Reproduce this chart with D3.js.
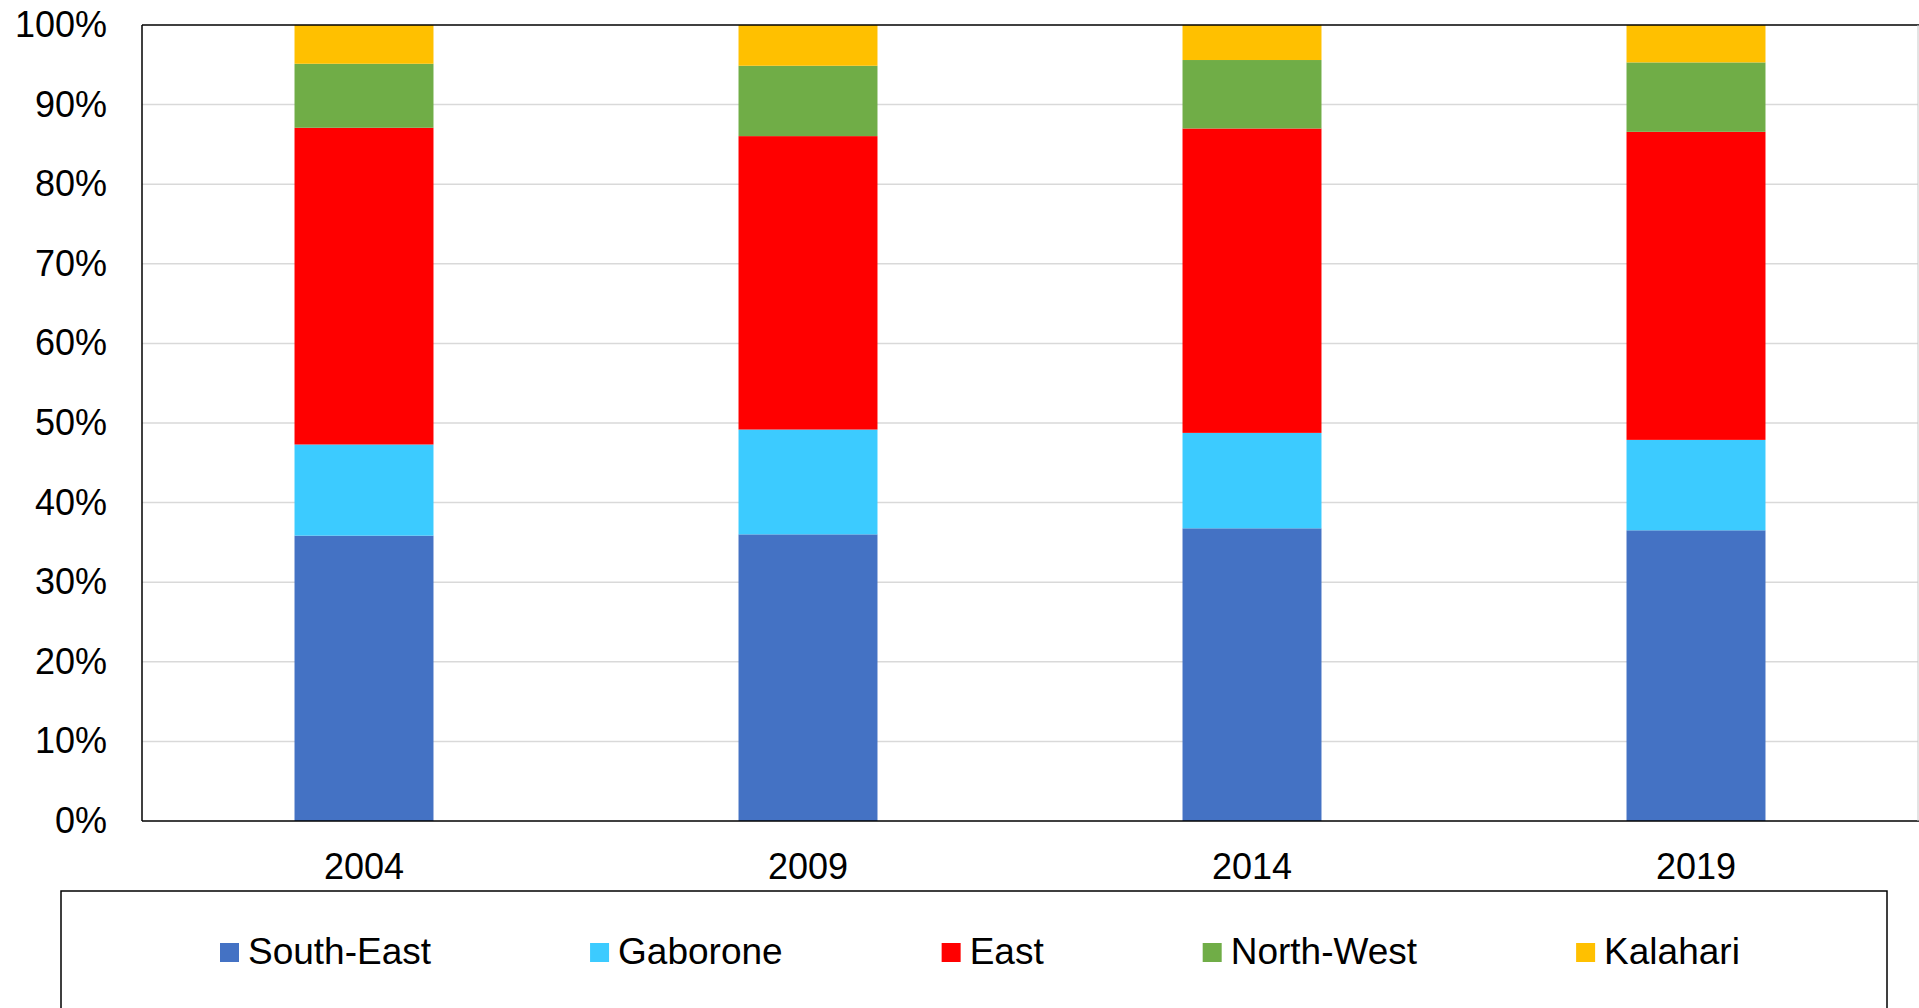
<!DOCTYPE html>
<html>
<head>
<meta charset="utf-8">
<script src="https://cdn.jsdelivr.net/npm/d3@7"></script>
<style>
  html, body { margin: 0; padding: 0; background: #fff; }
  svg { display: block; font-family: "Liberation Sans", Arial, sans-serif; }
</style>
</head>
<body>
<svg id="chart" width="1919" height="1008"></svg>
<script>
const years = ["2004", "2009", "2014", "2019"];
const seriesNames = ["South-East", "Gaborone", "East", "North-West", "Kalahari"];
const seriesColors = ["#4472C4", "#3CCBFF", "#FF0000", "#70AD47", "#FFC000"];
const southEast = [35.85, 36.01, 36.77, 36.52];
const gaborone  = [11.45, 13.17, 11.99, 11.36];
const east      = [39.79, 36.86, 38.24, 38.70];
const northWest = [8.04, 8.84, 8.60, 8.72];
const kalahari  = [4.87, 5.12, 4.40, 4.70];
const yTicks = [0, 0.1, 0.2, 0.3, 0.4, 0.5, 0.6, 0.7, 0.8, 0.9, 1.0];

const seriesValues = [southEast, gaborone, east, northWest, kalahari];
const rows = years.map((y, i) => {
  const r = { year: y };
  const total = seriesValues.reduce((s, arr) => s + arr[i], 0);
  seriesNames.forEach((n, k) => r[n] = seriesValues[k][i] / total);
  return r;
});

const svg = d3.select("#chart");
const L = 142, R = 1918, T = 25, B = 821;

const x = d3.scaleBand().domain(years).range([L, R]).paddingInner(0.687).paddingOuter(0.3435);
const y = d3.scaleLinear().domain([0, 1]).range([B, T]);

// gridlines
svg.append("g").selectAll("line").data(yTicks.filter(t => t > 0 && t < 1)).join("line")
  .attr("x1", L).attr("x2", R)
  .attr("y1", d => y(d)).attr("y2", d => y(d))
  .attr("stroke", "#d9d9d9").attr("stroke-width", 1.5);

// bars
const stack = d3.stack().keys(seriesNames)(rows);
const color = d3.scaleOrdinal().domain(seriesNames).range(seriesColors);
svg.append("g").selectAll("g").data(stack).join("g")
  .attr("fill", d => color(d.key))
  .selectAll("rect").data(d => d).join("rect")
  .attr("x", d => x(d.data.year))
  .attr("width", x.bandwidth())
  .attr("y", d => y(d[1]))
  .attr("height", d => y(d[0]) - y(d[1]));

// plot border
svg.append("line").attr("x1", L).attr("x2", R + 1).attr("y1", T).attr("y2", T).attr("stroke", "#000").attr("stroke-width", 1.5);
svg.append("line").attr("x1", L).attr("x2", R + 1).attr("y1", B).attr("y2", B).attr("stroke", "#000").attr("stroke-width", 1.5);
svg.append("line").attr("x1", L).attr("x2", L).attr("y1", T).attr("y2", B).attr("stroke", "#000").attr("stroke-width", 1.5);
svg.append("line").attr("x1", R).attr("x2", R).attr("y1", T).attr("y2", B).attr("stroke", "#c8c8c8").attr("stroke-width", 1);

// y axis
const yAxis = d3.axisLeft(y).tickValues(yTicks).tickSize(0).tickPadding(0).tickFormat(d3.format(".0%"));
const gy = svg.append("g").attr("transform", `translate(${107},0)`).call(yAxis);
gy.select(".domain").remove();
gy.selectAll("text").attr("font-size", 36).attr("fill", "#000").attr("font-family", "\"Liberation Sans\", Arial, sans-serif");

// x axis
const xAxis = d3.axisBottom(x).tickSize(0).tickPadding(0);
const gx = svg.append("g").attr("transform", `translate(0,${B})`).call(xAxis);
gx.select(".domain").remove();
gx.selectAll("text").attr("font-size", 36).attr("fill", "#000").attr("dy", null).attr("y", 58)
  .attr("font-family", "\"Liberation Sans\", Arial, sans-serif");

// legend
svg.append("rect").attr("x", 61).attr("y", 891).attr("width", 1826).attr("height", 200)
  .attr("fill", "none").attr("stroke", "#000").attr("stroke-width", 1.5);
let lx = 220;
seriesNames.forEach((n, k) => {
  svg.append("rect").attr("x", lx).attr("y", 943).attr("width", 19).attr("height", 19).attr("fill", seriesColors[k]);
  const t = svg.append("text").attr("x", lx + 28).attr("y", 964).attr("font-size", 37).attr("fill", "#000").text(n);
  lx += 28 + t.node().getComputedTextLength() + 159;
});
</script>
</body>
</html>
